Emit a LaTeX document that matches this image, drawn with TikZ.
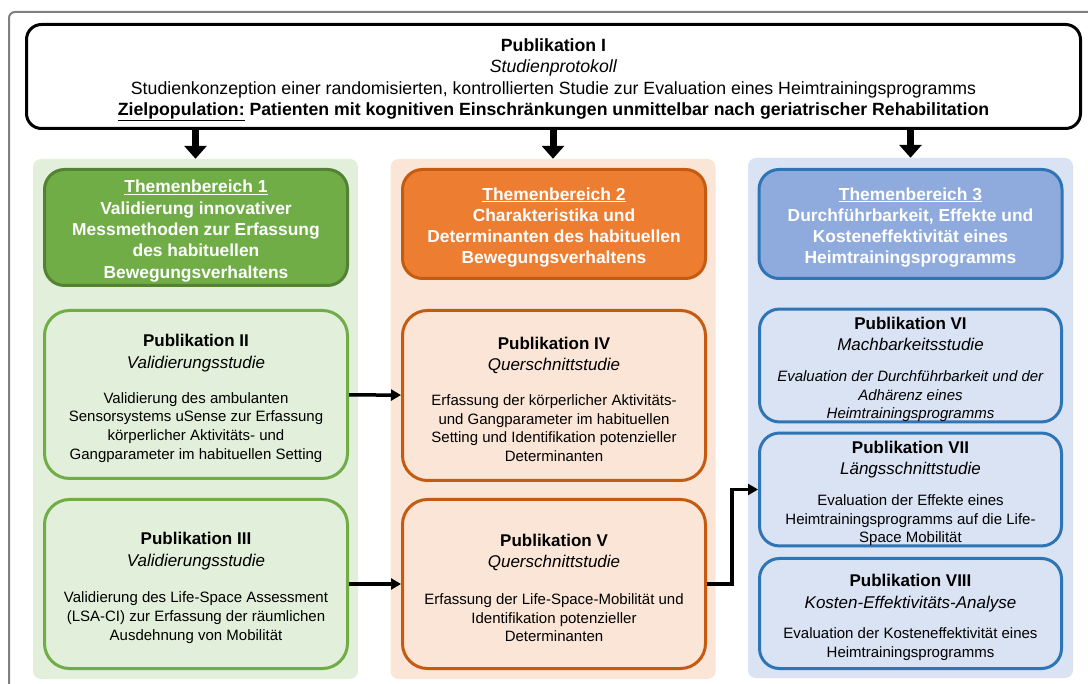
\documentclass[tikz,border=0pt]{standalone}
\usepackage{fontspec}
\setmainfont{Liberation Sans}
\usetikzlibrary{arrows.meta,positioning,calc}

\definecolor{gruenhell}{HTML}{E2EFDA}
\definecolor{gruen}{HTML}{70AD47}
\definecolor{gruendunkel}{HTML}{548235}
\definecolor{orangehell}{HTML}{FBE5D6}
\definecolor{orangemittel}{HTML}{ED7D31}
\definecolor{orangedunkel}{HTML}{C55A11}
\definecolor{blauhell}{HTML}{DAE3F3}
\definecolor{blaumittel}{HTML}{8FAADC}
\definecolor{blaudunkel}{HTML}{2E75B6}

\newcommand{\pubkopf}[2]{\rule{0pt}{20pt}{\fontsize{17}{20}\selectfont\bfseries #1}\\[3pt]{\fontsize{17}{20}\selectfont\itshape #2}}

\begin{document}
\begin{tikzpicture}[x=1pt,y=-1pt]
	\useasboundingbox (0,0) rectangle (1088,684);
	\clip (0,0) rectangle (1088,684);
	\draw [gray, line width=2pt, rounded corners=6pt] (9,12) rectangle (1120,720);

	% Hintergrund der drei Spalten
	\begin{scope}[every node/.style={rounded corners=8pt,inner sep=0pt,minimum width=325pt,minimum height=520pt}]
		\node [fill=gruenhell] (hgeins) at (195.5,419) {};
		\node [fill=orangehell] (hgzwei) at (553,419) {};
		\node [fill=blauhell] (hgdrei) at (910.5,418) {};
	\end{scope}

	\node [draw,line width=3pt,rounded corners=15pt,minimum width=1054pt,minimum height=104pt,align=center,
		font=\fontsize{17.7}{21.3}\selectfont] (pubeins) at (553.5,76.5)
		{\rule{0pt}{19.5pt}\textbf{Publikation I}\\ \textit{Studienprotokoll}\\
		Studienkonzeption einer randomisierten, kontrollierten Studie zur Evaluation eines Heimtrainingsprogramms\\
		\textbf{\underline{Zielpopulation:} Patienten mit kognitiven Einschr\"ankungen unmittelbar nach geriatrischer Rehabilitation}};

	% Themenbereiche
	\begin{scope}[every node/.style={rounded corners=20pt,line width=3pt,minimum width=303pt,align=center,
		text=white,font=\fontsize{17.4}{21.3}\selectfont\bfseries}]
		\node [draw=gruendunkel,fill=gruen,minimum height=116pt] (themaeins) at (196,227.5)
			{\rule{0pt}{19.7pt}\underline{Themenbereich 1}\\ Validierung innovativer\\ Messmethoden zur Erfassung\\ des habituellen\\ Bewegungsverhaltens};
		\node [draw=orangedunkel,fill=orangemittel,minimum height=109pt] (themazwei) at (554,224)
			{\rule{0pt}{19.7pt}\underline{Themenbereich 2}\\ Charakteristika und\\ Determinanten des habituellen\\ Bewegungsverhaltens};
		\node [draw=blaudunkel,fill=blaumittel,minimum height=109pt] (themadrei) at (910.5,224)
			{\rule{0pt}{19.7pt}\underline{Themenbereich 3}\\ Durchf\"uhrbarkeit, Effekte und\\ Kosteneffektivit\"at eines\\ Heimtrainingsprogramms};
	\end{scope}

	% Publikationen
	\begin{scope}[every node/.style={rounded corners=25pt,line width=3pt,minimum width=303pt,align=center,
		font=\fontsize{15}{18.7}\selectfont}]
		\node [draw=gruen,fill=gruenhell,minimum height=168pt] (pubzwei) at (196,394.5)
			{\pubkopf{Publikation II}{Validierungsstudie}\\[16pt]
			Validierung des ambulanten\\ Sensorsystems uSense zur Erfassung\\ k\"orperlicher Aktivit\"ats- und\\ Gangparameter im habituellen Setting};
		\node [draw=gruen,fill=gruenhell,minimum height=169pt] (pubdrei) at (196,584)
			{\pubkopf{Publikation III}{Validierungsstudie}\\[18pt]
			Validierung des Life-Space Assessment\\ (LSA-CI) zur Erfassung der r\"aumlichen\\ Ausdehnung von Mobilit\"at};
		\node [draw=orangedunkel,fill=orangehell,minimum height=170pt] (pubvier) at (554,395.5)
			{\pubkopf{Publikation IV}{Querschnittstudie}\\[16pt]
			Erfassung der k\"orperlicher Aktivit\"ats-\\ und Gangparameter im habituellen\\ Setting und Identifikation potenzieller\\ Determinanten};
		\node [draw=orangedunkel,fill=orangehell,minimum height=169pt] (pubfuenf) at (554,584)
			{\pubkopf{Publikation V}{Querschnittstudie}\\[18pt]
			Erfassung der Life-Space-Mobilit\"at und\\ Identifikation potenzieller\\ Determinanten};
	\end{scope}

	\begin{scope}[every node/.style={rounded corners=20pt,line width=3pt,minimum width=302pt,minimum height=110pt,
		inner ysep=0pt,align=center,draw=blaudunkel,fill=blauhell,font=\fontsize{15}{18.7}\selectfont}]
		\node (pubsechs) at (910.5,365.5)
			{\pubkopf{Publikation VI}{Machbarkeitsstudie}\\[12pt]
			\textit{Evaluation der Durchf\"uhrbarkeit und der}\\ \textit{Adh\"arenz eines}\\ \textit{Heimtrainingsprogramms}};
		\node (pubsieben) at (910.5,489.5)
			{\pubkopf{Publikation VII}{L\"angsschnittstudie}\\[12pt]
			Evaluation der Effekte eines\\ Heimtrainingsprogramms auf die Life-\\ Space Mobilit\"at};
		\node (pubacht) at (910.5,613.5)
			{\pubkopf{Publikation VIII}{Kosten-Effektivit\"ats-Analyse}\\[12pt]
			Evaluation der Kosteneffektivit\"at eines\\ Heimtrainingsprogramms};
	\end{scope}

	% Pfeile
	\begin{scope}[>={Triangle[width=22pt,length=13pt]},line width=7pt]
		\path (pubeins.south -| hgeins.north) edge [->] (hgeins.north);
		\path (pubeins.south -| hgzwei.north) edge [->] (hgzwei.north);
		\path (pubeins.south -| hgdrei.north) edge [->] (hgdrei.north);
	\end{scope}

	\begin{scope}[>={Triangle[width=11pt,length=10pt]},line width=3.5pt]
		\path (pubzwei) edge [->] (pubvier);
		\path (pubdrei) edge [->] (pubfuenf);
		\draw [->] (pubfuenf.east) -- ++(25,0) |- (pubsieben.west);
	\end{scope}
\end{tikzpicture}
\end{document}
